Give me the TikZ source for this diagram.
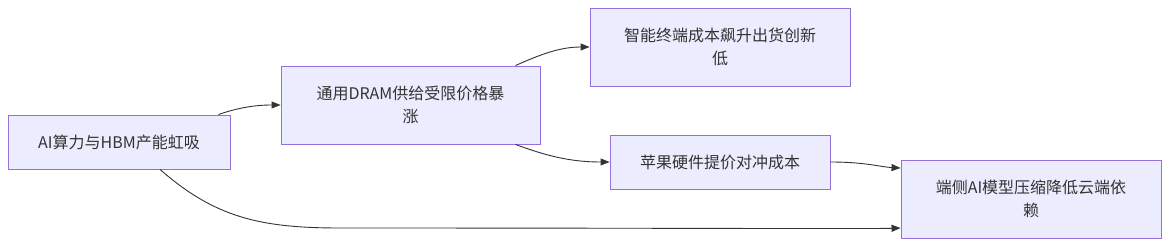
\documentclass[tikz,border=0pt]{standalone}
\usepackage{fontspec}
\setmainfont{Noto Sans CJK SC}
\usetikzlibrary{arrows.meta,positioning}
\definecolor{boxfill}{HTML}{ECECFF}
\definecolor{boxline}{HTML}{9370DB}
\definecolor{edge}{HTML}{333333}

\begin{document}
\begin{tikzpicture}[x=1pt,y=1pt,
  flowbox/.style={draw=boxline,fill=boxfill,line width=0.9pt,align=center,inner sep=0pt,
    text=edge,font=\fontsize{16}{23}\selectfont},
  flow/.style={draw=edge,line width=0.9pt,-{Triangle[length=9pt,width=7pt]}}]
  \useasboundingbox (0,0) rectangle (1169,247);

  % Boxes
  \node[flowbox,minimum width=222pt,minimum height=54pt] (hbm) at (119,105) {AI算力与HBM产能虹吸};
  \node[flowbox,minimum width=259pt,minimum height=78pt] (dram) at (410.5,142) {通用DRAM供给受限价格暴\\涨};
  \node[flowbox,minimum width=260pt,minimum height=78pt] (phone) at (720,200) {智能终端成本飙升出货创新\\低};
  \node[flowbox,minimum width=220pt,minimum height=54pt] (apple) at (720,85) {苹果硬件提价对冲成本};
  \node[flowbox,minimum width=260pt,minimum height=78pt] (edgeai) at (1031,48) {端侧AI模型压缩降低云端依\\赖};

  % Connectors
  \draw[flow] ([xshift=-12pt]hbm.north east) .. controls +(20,7) and +(-25,0) .. (dram.west);
  \draw[flow] ([xshift=-25pt]dram.north east) .. controls +(25,11) and +(-30,0) .. (phone.west);
  \draw[flow] ([xshift=-25pt]dram.south east) .. controls +(30,-11) and +(-40,0) .. (apple.west);
  \draw[flow] (apple.east) .. controls +(35,0) and +(-20,1) .. ([yshift=31pt]edgeai.west);
  \draw[flow] ([xshift=41pt]hbm.south) .. controls +(55,-48) and +(-80,0) .. (340,19)
    .. controls +(300,0) and +(-30,-1) .. ([yshift=-29pt]edgeai.west);
\end{tikzpicture}
\end{document}
